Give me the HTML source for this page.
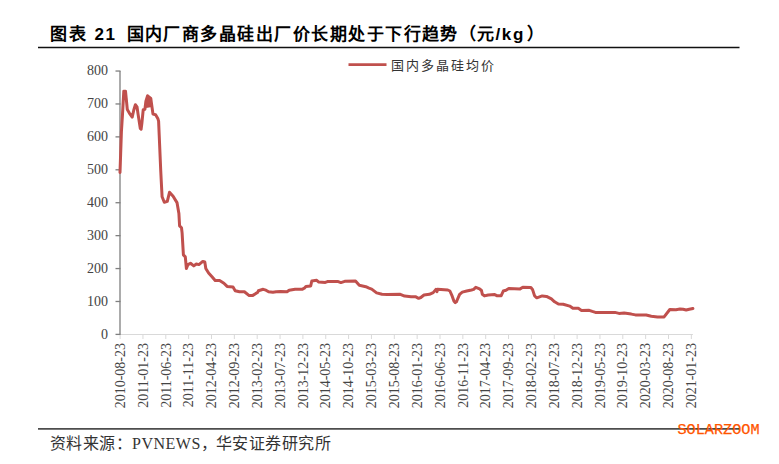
<!DOCTYPE html>
<html lang="zh-CN"><head><meta charset="utf-8">
<style>
html,body{margin:0;padding:0;background:#fff;width:779px;height:464px;overflow:hidden;position:relative}
.t{position:absolute;top:25px;line-height:20px;font-family:"Liberation Sans",sans-serif;font-weight:bold;font-size:17px;color:#000;white-space:nowrap;letter-spacing:1.5px}
svg{position:absolute;left:0;top:0}
.yl{position:absolute;right:671px;font-family:"Liberation Serif",serif;font-size:14px;line-height:16px;color:#444;text-align:right}
.xl{position:absolute;top:343px;width:0;height:0;font-family:"Liberation Serif",serif;font-size:14px;color:#444}
.xl span{position:absolute;right:0;top:-8px;line-height:16px;white-space:nowrap;transform-origin:100% 50%;transform:rotate(-90deg)}
.lg{position:absolute;left:390.5px;top:55px;font-family:"Liberation Serif",serif;font-size:13px;color:#333;letter-spacing:2px;white-space:nowrap}
.src{position:absolute;top:434px;line-height:20px;font-family:"Liberation Serif",serif;font-size:16px;letter-spacing:0.5px;color:#333;white-space:nowrap}
.wm{position:absolute;left:677.5px;top:422.2px;line-height:16px;font-family:"Liberation Mono",monospace;font-size:15.2px;color:#ff5500;-webkit-text-stroke:0.25px #ff5500;white-space:nowrap}
</style></head><body>
<div class="t" style="left:50px">图表</div><div class="t" style="left:94.5px">21</div><div class="t" style="left:126.5px;letter-spacing:1.47px">国内厂商多晶硅出厂价长期处于下行趋势（元</div><div class="t" style="left:495.5px;letter-spacing:1.6px">/kg</div><div class="t" style="left:527px">）</div>

<svg width="779" height="464" viewBox="0 0 779 464">
<g stroke="#d9d9d9" stroke-width="1">
<line x1="120" y1="334.5" x2="692.9" y2="334.5"/>
<line x1="120.10" y1="334" x2="120.10" y2="339"/><line x1="142.95" y1="334" x2="142.95" y2="339"/><line x1="165.80" y1="334" x2="165.80" y2="339"/><line x1="188.65" y1="334" x2="188.65" y2="339"/><line x1="211.50" y1="334" x2="211.50" y2="339"/><line x1="234.35" y1="334" x2="234.35" y2="339"/><line x1="257.20" y1="334" x2="257.20" y2="339"/><line x1="280.05" y1="334" x2="280.05" y2="339"/><line x1="302.90" y1="334" x2="302.90" y2="339"/><line x1="325.75" y1="334" x2="325.75" y2="339"/><line x1="348.60" y1="334" x2="348.60" y2="339"/><line x1="371.45" y1="334" x2="371.45" y2="339"/><line x1="394.30" y1="334" x2="394.30" y2="339"/><line x1="417.15" y1="334" x2="417.15" y2="339"/><line x1="440.00" y1="334" x2="440.00" y2="339"/><line x1="462.85" y1="334" x2="462.85" y2="339"/><line x1="485.70" y1="334" x2="485.70" y2="339"/><line x1="508.55" y1="334" x2="508.55" y2="339"/><line x1="531.40" y1="334" x2="531.40" y2="339"/><line x1="554.25" y1="334" x2="554.25" y2="339"/><line x1="577.10" y1="334" x2="577.10" y2="339"/><line x1="599.95" y1="334" x2="599.95" y2="339"/><line x1="622.80" y1="334" x2="622.80" y2="339"/><line x1="645.65" y1="334" x2="645.65" y2="339"/><line x1="668.50" y1="334" x2="668.50" y2="339"/><line x1="691.35" y1="334" x2="691.35" y2="339"/>
</g>
<g stroke="#7f7f7f" stroke-width="1.3">
<line x1="120" y1="71" x2="120" y2="334.5"/>
<line x1="115.5" y1="334.40" x2="120.5" y2="334.40"/><line x1="115.5" y1="301.48" x2="120.5" y2="301.48"/><line x1="115.5" y1="268.56" x2="120.5" y2="268.56"/><line x1="115.5" y1="235.64" x2="120.5" y2="235.64"/><line x1="115.5" y1="202.72" x2="120.5" y2="202.72"/><line x1="115.5" y1="169.80" x2="120.5" y2="169.80"/><line x1="115.5" y1="136.88" x2="120.5" y2="136.88"/><line x1="115.5" y1="103.96" x2="120.5" y2="103.96"/><line x1="115.5" y1="71.04" x2="120.5" y2="71.04"/>
</g>
<line x1="38" y1="47.5" x2="739.5" y2="47.5" stroke="#111" stroke-width="1.3"/>
<line x1="38" y1="428.8" x2="739.5" y2="428.8" stroke="#4d4d4d" stroke-width="1.7"/>
<line x1="348.5" y1="64.6" x2="386.5" y2="64.6" stroke="#c0504d" stroke-width="2.6"/>
<polygon points="145.5,102 147.6,95.8 150.8,98.5 151.8,107 146.2,108" fill="#c0504d"/>
<path d="M120 172.4 L121.4 132 L122.5 114.4 L123.8 91.2 L125.5 91.2 L126.2 98.2 L127.3 109.5 L129.5 113.3 L132.2 117.1 L133.8 110 L135.4 104.7 L137 106.8 L138.1 114.4 L140.3 128.4 L141.1 129.2 L141.9 123 L143.2 109.8 L144.9 109.3 L145.9 101.2 L147.6 95.8 L150.8 98.5 L151.3 102.3 L153 114.1 L155.6 114.7 L157.8 118.4 L158.6 121.1 L159.2 135 L160.7 170 L161.2 180 L162.1 196.8 L164.3 202.3 L167.3 201.3 L169.5 192.3 L173.1 196.2 L177 202.6 L178.9 213.6 L179.6 225.9 L181.5 227.8 L182.1 232.9 L183.4 254.9 L185.3 256.9 L186.4 268.5 L187.9 264.6 L190.5 263.3 L193.8 265.9 L196.3 264 L198.9 264.6 L202.8 261.4 L204.8 262 L205.8 268.5 L208.6 273 L212 276.7 L215.2 280.5 L219.6 280.5 L223.9 283.2 L227.1 286.4 L233 287 L235.2 290.7 L239.5 291.8 L244.4 291.8 L249.2 295.6 L252.4 295.6 L257.8 292.3 L258.4 290.7 L263.2 289.3 L265.9 290.2 L268.6 291.8 L272.9 292.3 L276.2 291.8 L280.5 291.5 L287 291.8 L289.2 290.2 L295.1 289.3 L302.1 289.3 L304.3 288.2 L305.9 286.4 L310.7 285.9 L311.8 281 L316.7 280.3 L318.8 282.1 L325.3 282.4 L327.4 281.6 L338.2 281.6 L340.9 282.6 L344.7 281.3 L355.5 281 L359.3 285.3 L365.8 286.7 L369 288.2 L371.7 289.1 L376.6 292.9 L382 294.3 L387.3 294.5 L400.3 294.3 L404.6 296.1 L411.1 296.7 L415.4 296.7 L418.6 298.3 L420.8 297.5 L424 295 L429.4 294.3 L433.2 292.6 L435.9 289.4 L437 291.6 L437.5 289.2 L447.8 290 L449.9 291 L452.1 295.9 L454 301.3 L455.3 302.6 L456.5 301.8 L457.3 299.8 L459.6 294.3 L462.3 292.1 L466.7 291 L471.5 290 L473.7 289.4 L475.8 287.3 L479.6 288.9 L481.5 290.5 L482.3 294.3 L484.4 295.9 L488.2 295 L494.7 294.6 L496.8 295.7 L501.2 295.7 L503.3 291 L506 290.3 L508.8 288.5 L520.1 288.9 L522.8 287.3 L530.9 287.6 L532.5 289.4 L534.6 295.9 L536.8 297.8 L542.2 295.9 L546.5 296.4 L551.4 298.9 L554.6 301.8 L558.4 304 L563.2 304.3 L569.7 306.1 L572.9 308.3 L578.3 308.3 L581.5 310.4 L589.2 310.3 L592.3 311.4 L595.4 312.4 L614.9 312.4 L619 313.4 L624.1 313.1 L631.3 314.1 L635.4 314.9 L646.2 315 L651.3 316.2 L657.5 316.9 L664.1 316.9 L669.8 309.5 L675.9 309.7 L680 309 L683.1 309.3 L686.2 310 L689.3 309.3 L692.9 308.5" fill="none" stroke="#c0504d" stroke-width="3" stroke-linejoin="round" stroke-linecap="round"/>
</svg>
<div class="yl" style="top:326.80px">0</div><div class="yl" style="top:293.88px">100</div><div class="yl" style="top:260.96px">200</div><div class="yl" style="top:228.04px">300</div><div class="yl" style="top:195.12px">400</div><div class="yl" style="top:162.20px">500</div><div class="yl" style="top:129.28px">600</div><div class="yl" style="top:96.36px">700</div><div class="yl" style="top:63.44px">800</div>
<div class="xl" style="left:121.10px"><span>2010-08-23</span></div><div class="xl" style="left:143.95px"><span>2011-01-23</span></div><div class="xl" style="left:166.80px"><span>2011-06-23</span></div><div class="xl" style="left:189.65px"><span>2011-11-23</span></div><div class="xl" style="left:212.50px"><span>2012-04-23</span></div><div class="xl" style="left:235.35px"><span>2012-09-23</span></div><div class="xl" style="left:258.20px"><span>2013-02-23</span></div><div class="xl" style="left:281.05px"><span>2013-07-23</span></div><div class="xl" style="left:303.90px"><span>2013-12-23</span></div><div class="xl" style="left:326.75px"><span>2014-05-23</span></div><div class="xl" style="left:349.60px"><span>2014-10-23</span></div><div class="xl" style="left:372.45px"><span>2015-03-23</span></div><div class="xl" style="left:395.30px"><span>2015-08-23</span></div><div class="xl" style="left:418.15px"><span>2016-01-23</span></div><div class="xl" style="left:441.00px"><span>2016-06-23</span></div><div class="xl" style="left:463.85px"><span>2016-11-23</span></div><div class="xl" style="left:486.70px"><span>2017-04-23</span></div><div class="xl" style="left:509.55px"><span>2017-09-23</span></div><div class="xl" style="left:532.40px"><span>2018-02-23</span></div><div class="xl" style="left:555.25px"><span>2018-07-23</span></div><div class="xl" style="left:578.10px"><span>2018-12-23</span></div><div class="xl" style="left:600.95px"><span>2019-05-23</span></div><div class="xl" style="left:623.80px"><span>2019-10-23</span></div><div class="xl" style="left:646.65px"><span>2020-03-23</span></div><div class="xl" style="left:669.50px"><span>2020-08-23</span></div><div class="xl" style="left:692.35px"><span>2021-01-23</span></div>
<div class="lg">国内多晶硅均价</div>

<div class="src" style="left:49.5px;font-size:16px;letter-spacing:0.55px">资料来源：</div><div class="src" style="left:132px">PVNEWS，</div><div class="src" style="left:215.5px;font-size:16px;letter-spacing:0.55px">华安证券研究所</div>
<div class="wm">SOLARZOOM</div>
</body></html>
